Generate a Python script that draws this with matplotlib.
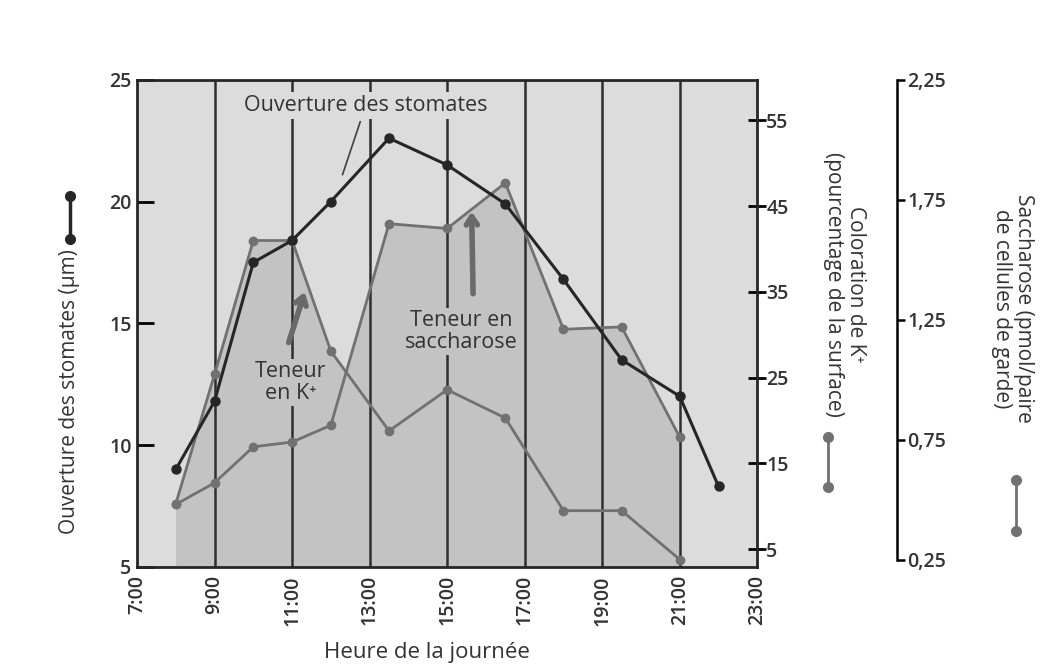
import matplotlib
matplotlib.use("Agg")
import matplotlib.pyplot as plt
from matplotlib.lines import Line2D

plt.rcParams['font.family'] = ['Open Sans', 'DejaVu Sans']

# heures des mesures (heures décimales)
heures = [8, 9, 10, 11, 12, 13.5, 15, 16.5, 18, 19.5, 21]
heures_stomates = [8, 9, 10, 11, 12, 13.5, 15, 16.5, 18, 19.5, 21, 22]

# ouverture des stomates (µm)
stomates = [9.0, 11.8, 17.5, 18.4, 20.0, 22.6, 21.5, 19.9, 16.8, 13.5, 12.0, 8.3]
# coloration de K+ (% de la surface)
potassium = [10.3, 25.4, 41.0, 41.0, 28.1, 18.8, 23.6, 20.3, 9.5, 9.5, 3.8]
# saccharose (pmol/paire de cellules de garde)
saccharose = [0.48, 0.57, 0.72, 0.74, 0.81, 1.65, 1.63, 1.82, 1.21, 1.22, 0.76]

x_ticks = [7, 9, 11, 13, 15, 17, 19, 21, 23]
x_labels = ['7:00', '9:00', '11:00', '13:00', '15:00', '17:00', '19:00', '21:00', '23:00']
y_ticks = [5, 10, 15, 20, 25]
k_ticks = [5, 15, 25, 35, 45, 55]
s_ticks = [0.25, 0.75, 1.25, 1.75, 2.25]

noir = '#262626'
gris = '#717171'
texte = '#333333'
fond = '#dcdcdc'
remplissage = '#c3c3c3'

fig = plt.figure(figsize=(10.46, 6.70), dpi=100)
ax = fig.add_axes([0.131, 0.154, 0.593, 0.727])

# axes pour les remplissages (en dessous)
fk = ax.twinx()
fs = ax.twinx()
ax2 = ax.twinx()
ax3 = ax.twinx()

fk.set_zorder(1)
fs.set_zorder(2)
ax2.set_zorder(3)
ax3.set_zorder(4)
ax.set_zorder(5)
ax.patch.set_visible(False)
fk.patch.set_visible(True)
fk.patch.set_facecolor(fond)

ylim_k = (2.95, 59.75)
ylim_s = (0.22, 2.25)

for a in (fk, fs):
    a.set_yticks([])
    for sp in a.spines.values():
        sp.set_visible(False)
fk.set_ylim(*ylim_k)
fs.set_ylim(*ylim_s)
fk.fill_between(heures, potassium, ylim_k[0], color=remplissage, lw=0)
fs.fill_between(heures, saccharose, ylim_s[0], color=remplissage, lw=0)
for h in x_ticks[1:-1]:
    fs.axvline(h, color='#2e2e2e', lw=1.8)

# K+
ax2.plot(heures, potassium, color=gris, lw=2, marker='o', ms=6)
ax2.set_ylim(*ylim_k)
ax2.set_yticks(k_ticks)
ax2.tick_params(axis='y', direction='inout', length=13, width=2, labelsize=14, pad=0)
for sp in ax2.spines.values():
    sp.set_visible(False)

# saccharose
ax3.plot(heures, saccharose, color=gris, lw=2, marker='o', ms=6)
ax3.set_ylim(*ylim_s)
ax3.set_yticks(s_ticks)
ax3.set_yticklabels([('%.2f' % v).replace('.', ',') for v in s_ticks])
for sp in ('top', 'bottom', 'left'):
    ax3.spines[sp].set_visible(False)
ax3.spines['right'].set_position(('axes', 1.226))
ax3.spines['right'].set_bounds(0.25, 2.25)
ax3.spines['right'].set_linewidth(1.8)
ax3.tick_params(axis='y', direction='out', length=6, width=1.8, labelsize=14, pad=1)

# ouverture des stomates
ax.plot(heures_stomates, stomates, color=noir, lw=2.2, marker='o', ms=6.5)
ax.set_xlim(7, 23)
ax.set_ylim(5, 25)
ax.set_yticks(y_ticks)
ax.set_xticks(x_ticks)
ax.set_xticklabels(x_labels, rotation=90)
ax.tick_params(axis='y', direction='in', length=12, width=2, labelsize=14, pad=4)
ax.tick_params(axis='x', length=0, labelsize=14, pad=6)
for sp in ax.spines.values():
    sp.set_linewidth(2)
    sp.set_color(noir)
for lab in ax.get_xticklabels() + ax.get_yticklabels() + ax2.get_yticklabels() + ax3.get_yticklabels():
    lab.set_fontweight('semibold')
    lab.set_color(texte)

ax.set_xlabel('Heure de la journée', fontsize=16, color=texte)
ax.xaxis.set_label_coords(0.468, -0.155)
ax.set_ylabel('Ouverture des stomates (µm)', fontsize=15, color=texte)
ax.yaxis.set_label_coords(-0.092, 0.36)
ax2.set_ylabel('Coloration de K\u207a\n(pourcentage de la surface)', fontsize=15,
               color=texte, rotation=270, va='center', linespacing=1.05)
ax2.yaxis.set_label_coords(1.14, 0.58)
ax3.set_ylabel('Saccharose (pmol/paire\nde cellules de garde)', fontsize=15,
               color=texte, rotation=270, va='center', linespacing=1.05)
ax3.yaxis.set_label_coords(1.411, 0.53)

# annotations (fond opaque qui coupe les verticales)
ax.annotate('Ouverture des stomates', xy=(12.3, 21.1), xytext=(12.9, 23.95),
            ha='center', va='center', fontsize=15.5, color=texte,
            bbox=dict(boxstyle='square,pad=0.15', fc=fond, ec='none'),
            arrowprops=dict(arrowstyle='-', color='#404040', lw=1.2, shrinkA=2, shrinkB=0))
ax.text(10.96, 12.56, 'Teneur\nen K\u207a', ha='center', va='center', fontsize=15.5,
        color=texte, linespacing=1.05,
        bbox=dict(boxstyle='square,pad=0.1', fc=remplissage, ec='none'))
ax.annotate('', xy=(11.35, 16.4), xytext=(10.89, 14.1),
            arrowprops=dict(arrowstyle='->,head_length=0.6,head_width=0.4',
                            color='#6a6a6a', lw=4))
ax.text(15.37, 14.65, 'Teneur en\nsaccharose', ha='center', va='center', fontsize=15.5,
        color=texte, linespacing=1.05,
        bbox=dict(boxstyle='square,pad=0.1', fc=remplissage, ec='none'))
ax.annotate('', xy=(15.63, 19.7), xytext=(15.67, 16.1),
            arrowprops=dict(arrowstyle='->,head_length=0.6,head_width=0.4',
                            color='#6a6a6a', lw=4))

# petits repères de légende à côté des titres d'axes
fig.add_artist(Line2D([0.067, 0.067], [0.7075, 0.643], transform=fig.transFigure,
                      color=noir, lw=2.5, marker='o', ms=7))
fig.add_artist(Line2D([0.7916, 0.7916], [0.348, 0.273], transform=fig.transFigure,
                      color=gris, lw=2, marker='o', ms=7))
fig.add_artist(Line2D([0.971, 0.971], [0.284, 0.2075], transform=fig.transFigure,
                      color=gris, lw=2, marker='o', ms=7))

fig.savefig('out.png', dpi=100, facecolor='white')
